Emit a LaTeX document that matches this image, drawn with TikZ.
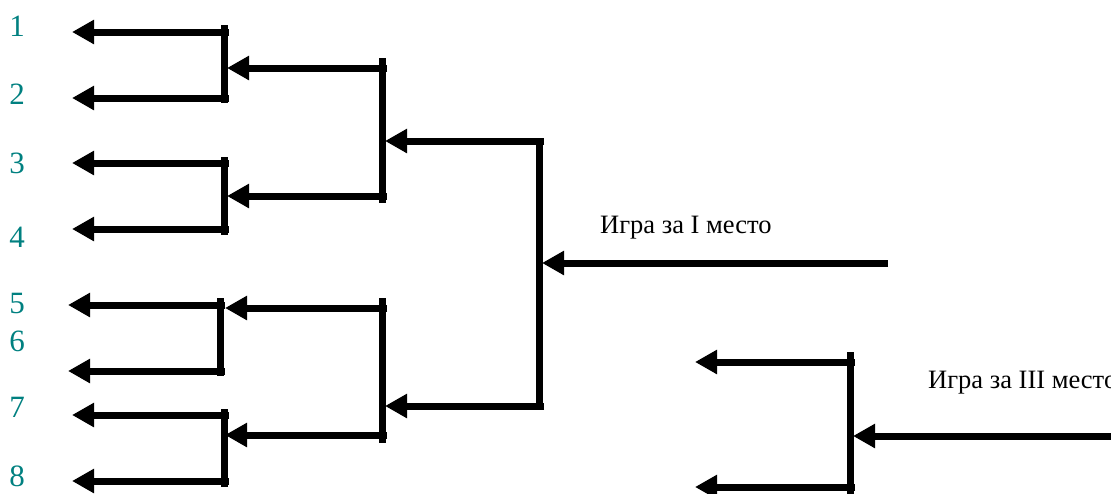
\documentclass[tikz,border=0pt]{standalone}
\usepackage{fontspec}
\setmainfont{Liberation Serif}
\usetikzlibrary{arrows.meta}
\definecolor{seed}{RGB}{0,128,128}
\tikzset{
  seedno/.style={text=seed, font=\fontsize{31}{31}\selectfont, inner sep=0pt},
  bar/.style={line width=7pt, line cap=butt},
  feed/.style={line width=7pt, -{Triangle[length=22pt,width=23pt]}},
  gamelabel/.style={font=\fontsize{26.5}{26.5}\selectfont, anchor=base west, inner sep=0pt},
}
% one bracket: #1 name, #2 bar x, #3 upper y, #4 lower y, #5 tip x, #6 bar top, #7 bar bottom
\newcommand\knockout[7]{%
  \coordinate (#1-t) at (#2,#6);
  \coordinate (#1-b) at (#2,#7);
  \coordinate (#1-u) at (#2+5,#3);
  \coordinate (#1-d) at (#2+5,#4);
  \coordinate (#1-ut) at (#5,#3);
  \coordinate (#1-dt) at (#5,#4);
  \draw[bar] (#1-t) -- (#1-b);
  \draw[feed] (#1-u) -- (#1-ut);
  \draw[feed] (#1-d) -- (#1-dt);
}
\begin{document}
\begin{tikzpicture}[x=1pt,y=-1pt]
\useasboundingbox (0,0) rectangle (1111,493);
\clip (0,0) rectangle (1111,493);

% seeds
\node[seedno] (s1) at (17,26) {1};
\node[seedno] (s2) at (17,94) {2};
\node[seedno] (s3) at (17,163) {3};
\node[seedno] (s4) at (17,237) {4};
\node[seedno] (s5) at (17,303) {5};
\node[seedno] (s6) at (17,341) {6};
\node[seedno] (s7) at (17,407) {7};
\node[seedno] (s8) at (17,476) {8};

% first round
\knockout{A}{224}{32}{98}{72}{25}{103}
\knockout{B}{224}{163}{229}{72}{157}{235}
\knockout{C}{220}{305}{371}{68}{298}{376}
\knockout{D}{224}{415}{481}{72}{409}{487}

% semifinals
\knockout{E}{382}{68}{196}{227}{58}{203}
\knockout{F}{382}{308}{435}{225}{298}{443}

% final
\knockout{G}{539}{141}{406}{385}{138}{409}
\coordinate (fin-r) at (888,263);
\coordinate (fin-l) at (542,263);
\draw[feed] (fin-r) -- (fin-l);
\node[gamelabel] (first) at (600,233) {Игра за I место};

% third place
\knockout{T}{850}{362}{487}{695}{352}{496}
\coordinate (thr-r) at (1115,436);
\coordinate (thr-l) at (853,436);
\draw[feed] (thr-r) -- (thr-l);
\node[gamelabel] (third) at (928,388) {Игра за III место};
\end{tikzpicture}
\end{document}
